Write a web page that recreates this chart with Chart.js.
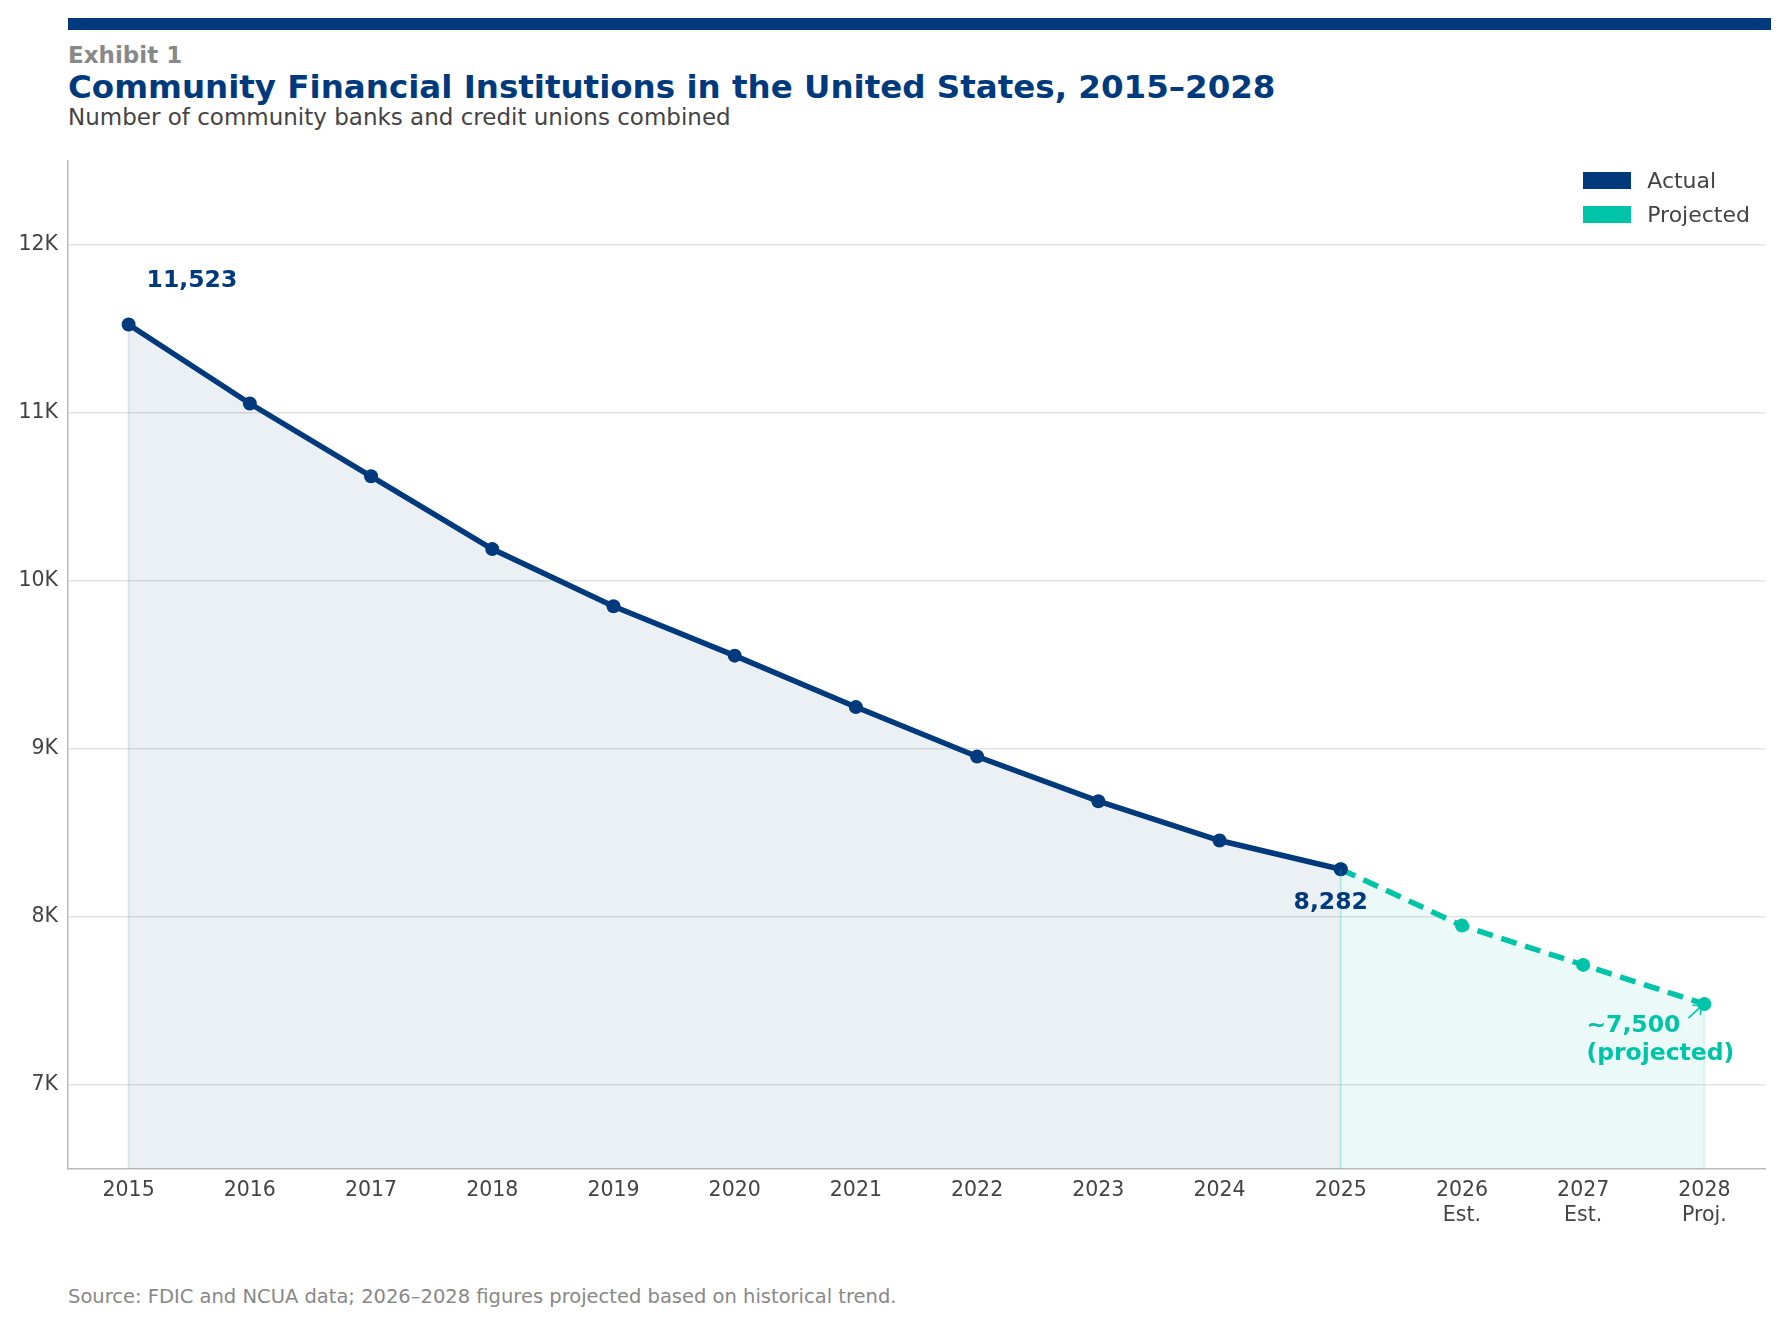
<!DOCTYPE html>
<html><head><meta charset="utf-8">
<script src="https://cdn.jsdelivr.net/npm/chart.js@4"></script>
<style>
body{margin:0;width:1788px;height:1325px;background:#fff;font-family:"DejaVu Sans",sans-serif;position:relative;overflow:hidden}
#bar{position:absolute;left:68px;top:18px;width:1703px;height:12px;background:#003a7d}
#ex{position:absolute;left:68px;top:42px;font-size:23px;font-weight:bold;color:#888}
#title{position:absolute;left:68px;top:68px;font-size:32.5px;font-weight:bold;color:#003a7d}
#sub{position:absolute;left:68px;top:104px;font-size:23px;color:#444}
#src{position:absolute;left:68px;top:1285px;font-size:19.5px;color:#888}
#wrap{position:absolute;left:0;top:138px;width:1772px;height:1100px}
#leg{position:absolute;right:38px;top:163px;font-size:22px;color:#444}
#leg div{display:flex;align-items:center;height:34px}
#leg span{display:inline-block;width:48px;height:17px;margin-right:16px}
</style></head><body>
<div id="bar"></div>
<div id="ex">Exhibit 1</div>
<div id="title">Community Financial Institutions in the United States, 2015–2028</div>
<div id="sub">Number of community banks and credit unions combined</div>
<div id="wrap"><canvas id="c"></canvas></div>
<div id="leg"><div><span style="background:#003a7d"></span>Actual</div><div><span style="background:#00c4a7"></span>Projected</div></div>
<div id="src">Source: FDIC and NCUA data; 2026–2028 figures projected based on historical trend.</div>
<script>
const years = [["2015"],["2016"],["2017"],["2018"],["2019"],["2020"],["2021"],["2022"],["2023"],["2024"],["2025"],["2026","Est."],["2027","Est."],["2028","Proj."]];
const actual = [11523,11053,10620,10187,9847,9553,9247,8953,8687,8453,8282,null,null,null];
const projected = [null,null,null,null,null,null,null,null,null,null,8282,7947,7713,7480];
const yTicks = [7000,8000,9000,10000,11000,12000];
const navy = "#003a7d", teal = "#00c4a7";

const notes = {
  id: "notes",
  afterDatasetsDraw(chart) {
    const {ctx, scales:{x,y}, chartArea} = chart;
    ctx.save();
    ctx.lineWidth = 2;
    [[0,actual[0],"rgba(0,58,125,0.12)"],[10,8282,"rgba(0,196,167,0.25)"],[13,projected[13],"rgba(0,196,167,0.15)"]].forEach(([i,v,c])=>{
      ctx.strokeStyle=c;ctx.beginPath();ctx.moveTo(x.getPixelForValue(i),y.getPixelForValue(v));ctx.lineTo(x.getPixelForValue(i),chartArea.bottom);ctx.stroke();
    });
    ctx.font = "bold 23.5px 'DejaVu Sans'";
    ctx.fillStyle = navy;
    ctx.textAlign = "left";
    ctx.fillText("11,523", x.getPixelForValue(0)+18, y.getPixelForValue(actual[0])-38);
    ctx.textAlign = "center";
    ctx.fillText("8,282", x.getPixelForValue(10)-10, y.getPixelForValue(8282)+40);
    ctx.fillStyle = teal;
    ctx.textAlign = "left";
    const px = x.getPixelForValue(13), py = y.getPixelForValue(projected[13]);
    ctx.fillText("~7,500", px-118, py+28);
    ctx.fillText("(projected)", px-118, py+56);
    ctx.strokeStyle = teal; ctx.lineWidth = 1.5;
    ctx.beginPath(); ctx.moveTo(px-16,py+14); ctx.lineTo(px-3,py+2); ctx.stroke();
    ctx.beginPath(); ctx.moveTo(px-12,py+1); ctx.lineTo(px-3,py+2); ctx.lineTo(px-4,py+11); ctx.stroke();
    ctx.restore();
  }
};

new Chart(document.getElementById("c"), {
  type: "line",
  data: {
    labels: years,
    datasets: [
      { label: "Actual", data: actual, borderColor: navy, backgroundColor: navy, borderWidth: 5.5,
        pointRadius: 7, pointBackgroundColor: navy, pointBorderWidth: 0, fill: {target:"origin", above:"rgba(0,58,125,0.08)"}, tension: 0 },
      { label: "Projected", data: projected, borderColor: teal, backgroundColor: teal, borderWidth: 5.5, borderDash: [16,9],
        pointRadius: 7, pointBackgroundColor: teal, pointBorderWidth: 0, fill: {target:"origin", above:"rgba(0,196,167,0.08)"}, tension: 0 }
    ]
  },
  options: {
    responsive: true, maintainAspectRatio: false, animation: false,
    layout: { padding: { top: 7, right: 0, left: 0 } },
    scales: {
      x: { offset: true, grid: { display: false, drawTicks: false }, border: { color: "#bbb", width: 1.5 },
           ticks: { color: "#444", font: { size: 20.5, family: "DejaVu Sans" }, padding: 10 } },
      y: { min: 6500, max: 12500, grid: { color: "#e3e3e3", lineWidth: 1.5, drawTicks: false }, border: { color: "#bbb", width: 1.5 },
           afterBuildTicks: s => { s.ticks = yTicks.map(v => ({ value: v })); },
           afterFit: s => { s.width = 68; },
           ticks: { color: "#444", font: { size: 20.5, family: "DejaVu Sans" }, padding: 10,
                    callback: v => (v/1000) + "K" } }
    },
    plugins: { legend: { display: false }, tooltip: { enabled: false } }
  },
  plugins: [notes]
});
</script>
</body></html>
